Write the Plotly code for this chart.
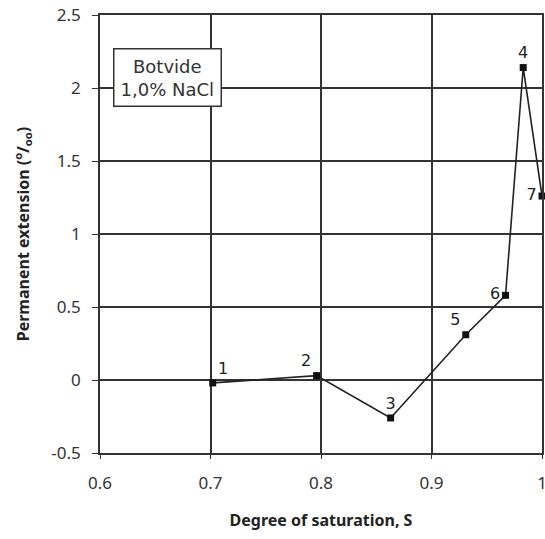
import plotly.graph_objects as go

# points in order of saturation
point_labels = ["1", "2", "3", "5", "6", "4", "7"]
saturation = [0.702, 0.796, 0.863, 0.931, 0.967, 0.983, 1.0]
extension = [-0.02, 0.03, -0.26, 0.31, 0.58, 2.14, 1.26]
label_pos = ["top right", "top left", "top center", "top left", "middle left", "top center", "middle left"]

x_ticks = [0.6, 0.7, 0.8, 0.9, 1.0]
x_ticktext = ["0.6", "0.7", "0.8", "0.9", "1"]
y_ticks = [-0.5, 0, 0.5, 1, 1.5, 2, 2.5]
y_ticktext = ["-0.5", "0", "0.5", "1", "1.5", "2", "2.5"]

font_main = "Century Gothic, Noto Sans, DejaVu Sans, sans-serif"

fig = go.Figure()

fig.add_trace(go.Scatter(
    x=saturation,
    y=extension,
    mode="lines+markers+text",
    text=point_labels,
    textposition=label_pos,
    textfont=dict(size=16, color="#222", family="DejaVu Sans, sans-serif"),
    line=dict(color="#222", width=1.6),
    marker=dict(symbol="square", size=7, color="#111"),
    cliponaxis=False,
    showlegend=False,
))

# legend-like box in the top left
fig.add_annotation(
    x=0.03, y=0.925, xref="paper", yref="paper",
    xanchor="left", yanchor="top",
    text="Botvide<br>1,0% NaCl",
    showarrow=False,
    align="center",
    font=dict(size=18, color="#333", family="DejaVu Sans, sans-serif"),
    bgcolor="white",
    bordercolor="#333",
    borderwidth=1.5,
    borderpad=6,
)

fig.update_xaxes(
    range=[0.6, 1.0],
    tickvals=x_ticks,
    ticktext=x_ticktext,
    showgrid=True,
    gridcolor="#333",
    gridwidth=1.5,
    zeroline=False,
    showline=True,
    linecolor="#333",
    linewidth=1.5,
    mirror=True,
    ticks="outside",
    ticklen=4,
    tickcolor="#333",
    ticklabelstandoff=10,
    ticklabeloverflow="allow",
    automargin=False,
    tickfont=dict(size=17, color="#333", family=font_main),
    title=dict(text="<b>Degree of saturation, S</b>",
               font=dict(size=16, color="#222", family=font_main), standoff=22),
)

fig.update_yaxes(
    range=[-0.5, 2.5],
    tickvals=y_ticks,
    ticktext=y_ticktext,
    showgrid=True,
    gridcolor="#333",
    gridwidth=1.5,
    zeroline=False,
    showline=True,
    linecolor="#333",
    linewidth=1.5,
    mirror=True,
    ticks="outside",
    ticklen=6,
    tickcolor="#333",
    ticklabelstandoff=8,
    automargin=False,
    tickfont=dict(size=17, color="#333", family=font_main),
    title=dict(text="<b>Permanent extension (<sup>o</sup>/<sub>oo</sub>)</b>",
               font=dict(size=16, color="#222", family=font_main), standoff=18),
)

fig.update_layout(
    width=545,
    height=539,
    autosize=False,
    margin=dict(l=100, r=3, t=15, b=86),
    plot_bgcolor="white",
    paper_bgcolor="white",
)

# drop the default page margin so the figure fills the window exactly
fig.write_html("out.html",
               config={"displayModeBar": False},
               post_script="document.body.style.margin='0';document.body.style.overflow='hidden';")
